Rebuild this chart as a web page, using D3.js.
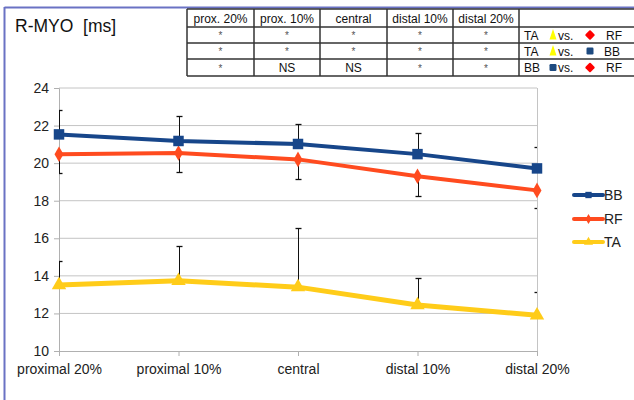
<!DOCTYPE html>
<html>
<head>
<meta charset="utf-8">
<script src="https://cdn.jsdelivr.net/npm/d3@7/dist/d3.min.js"></script>
<style>
  html, body { margin: 0; padding: 0; background: #fff; }
  svg { display: block; font-family: "Liberation Sans", Arial, sans-serif; }
</style>
</head>
<body>
<svg id="chart" width="634" height="400"></svg>
<script>
// Positions along the muscle
const categories = ["proximal 20%", "proximal 10%", "central", "distal 10%", "distal 20%"];

// Mean R-MYO values [ms] per muscle
const bbValues = [21.53, 21.18, 21.02, 20.48, 19.72];
const rfValues = [20.47, 20.54, 20.20, 19.30, 18.55];
const taValues = [13.51, 13.74, 13.40, 12.45, 11.90];

// Standard deviations (BB and TA drawn upward, RF downward)
const bbSD = [1.28, 1.32, 1.08, 1.14, 1.15];
const rfSD = [1.02, 1.02, 1.04, 1.04, 0.93];
const taSD = [1.30, 1.85, 3.15, 1.45, 1.25];

const yTicks = [10, 12, 14, 16, 18, 20, 22, 24];

// Significance table
const tableHeaders = ["prox. 20%", "prox. 10%", "central", "distal 10%", "distal 20%"];
const tableRows = [
  ["*", "*", "*", "*", "*"],
  ["*", "*", "*", "*", "*"],
  ["*", "NS", "NS", "*", "*"]
];
const comparisons = [["TA", "RF"], ["TA", "BB"], ["BB", "RF"]];

const colors = { BB: "#17468a", RF: "#ff4b1f", TA: "#ffcc19" };
const markerColors = { BB: "#1d4a80", RF: "#ff0000", TA: "#ffff00" };

const svg = d3.select("#chart");

// Outer frame (top and left edges)
svg.append("line").attr("x1", 4.5).attr("x2", 634).attr("y1", 7.5).attr("y2", 7.5)
  .attr("stroke", "#6a72c4").attr("stroke-width", 2);
svg.append("line").attr("x1", 4.5).attr("x2", 4.5).attr("y1", 7).attr("y2", 400)
  .attr("stroke", "#6a72c4").attr("stroke-width", 2);

// Title
svg.append("text").attr("x", 15).attr("y", 32).attr("font-size", 17.5).attr("fill", "#111")
  .attr("xml:space", "preserve").text("R-MYO  [ms]");

// Scales
const x = d3.scalePoint().domain(categories).range([59, 537]);
const y = d3.scaleLinear().domain([10, 24]).range([351, 88]);

// Clip region for error bar caps
svg.append("clipPath").attr("id", "plotclip").append("rect")
  .attr("x", 59).attr("y", 0).attr("width", 478).attr("height", 360);

// Horizontal gridlines
svg.append("g").selectAll("line").data(yTicks.filter(t => t > 10)).join("line")
  .attr("x1", 59).attr("x2", 537).attr("y1", d => y(d)).attr("y2", d => y(d))
  .attr("stroke", "#c4c4c4").attr("stroke-width", 1);
// Right border of plot
svg.append("line").attr("x1", 537.5).attr("x2", 537.5).attr("y1", y(24)).attr("y2", y(10))
  .attr("stroke", "#c4c4c4");

// Y axis
const yAxis = svg.append("g").attr("transform", "translate(59,0)")
  .call(d3.axisLeft(y).tickValues(yTicks).tickSize(5).tickPadding(5).tickFormat(d3.format("d")));
yAxis.select(".domain").attr("stroke", "#b0b0b0");
yAxis.selectAll(".tick line").attr("stroke", "#b0b0b0");
yAxis.selectAll("text").attr("font-size", 14).attr("fill", "#222")
  .attr("font-family", "Liberation Sans, Arial, sans-serif");

// X axis
const xAxis = svg.append("g").attr("transform", `translate(0,${y(10)})`)
  .call(d3.axisBottom(x).tickSize(5).tickPadding(8));
xAxis.select(".domain").attr("stroke", "#b0b0b0").attr("d", "M59,0.5H537");
xAxis.selectAll(".tick line").attr("stroke", "#b0b0b0");
xAxis.selectAll("text").attr("font-size", 14).attr("fill", "#222")
  .attr("font-family", "Liberation Sans, Arial, sans-serif");

// Error bars
function errorBars(values, sd, dir) {
  const g = svg.append("g").attr("clip-path", "url(#plotclip)");
  categories.forEach((c, i) => {
    const x0 = Math.round(x(c)) + 0.5;
    const yEnd = Math.round(y(values[i] + dir * sd[i])) + 0.5;
    g.append("line").attr("x1", x0).attr("x2", x0)
      .attr("y1", y(values[i])).attr("y2", yEnd).attr("stroke", "#111").attr("stroke-width", 1);
    g.append("line").attr("x1", x0 - 3).attr("x2", x0 + 3)
      .attr("y1", yEnd).attr("y2", yEnd).attr("stroke", "#111").attr("stroke-width", 1.3);
  });
}
errorBars(bbValues, bbSD, 1);
errorBars(rfValues, rfSD, -1);
errorBars(taValues, taSD, 1);

const line = d3.line().x((d, i) => x(categories[i])).y(d => y(d));

function series(values, key, symbol, size, width) {
  svg.append("path").datum(values).attr("d", line).attr("fill", "none")
    .attr("stroke", colors[key]).attr("stroke-width", width).attr("stroke-linejoin", "round");
  svg.append("g").selectAll("path").data(values).join("path")
    .attr("transform", (d, i) => `translate(${x(categories[i])},${y(d)})`)
    .attr("d", d3.symbol().type(symbol).size(size)).attr("fill", colors[key]);
}
series(taValues, "TA", d3.symbolTriangle, 90, 5);
series(rfValues, "RF", d3.symbolDiamond, 70, 4);
series(bbValues, "BB", d3.symbolSquare, 110, 4);

// Legend
const legendItems = [
  { key: "BB", symbol: d3.symbolSquare, size: 40, y: 195 },
  { key: "RF", symbol: d3.symbolDiamond, size: 30, y: 219 },
  { key: "TA", symbol: d3.symbolTriangle, size: 36, y: 242 }
];
const lg = svg.append("g");
legendItems.forEach(it => {
  lg.append("line").attr("x1", 574).attr("x2", 603).attr("y1", it.y).attr("y2", it.y)
    .attr("stroke", colors[it.key]).attr("stroke-width", 4).attr("stroke-linecap", "round");
  lg.append("path").attr("transform", `translate(588.5,${it.y})`)
    .attr("d", d3.symbol().type(it.symbol).size(it.size)).attr("fill", colors[it.key]);
  lg.append("text").attr("x", 604).attr("y", it.y + 5).attr("font-size", 14).attr("fill", "#222")
    .text(it.key);
});

// Significance table
const colEdges = [187, 254, 320, 387, 453, 519, 634];
const rowEdges = [9, 27, 43, 59, 76];
const tg = svg.append("g");
tg.append("rect").attr("x", 187).attr("y", 9).attr("width", 447).attr("height", 67).attr("fill", "#fff");
rowEdges.forEach(ry => {
  tg.append("line").attr("x1", 187).attr("x2", 634).attr("y1", ry).attr("y2", ry)
    .attr("stroke", "#333").attr("stroke-width", 1.5);
});
colEdges.slice(0, 6).forEach(cx => {
  tg.append("line").attr("x1", cx).attr("x2", cx).attr("y1", 9).attr("y2", 76)
    .attr("stroke", "#333").attr("stroke-width", 1.5);
});
tableHeaders.forEach((h, i) => {
  tg.append("text").attr("x", (colEdges[i] + colEdges[i + 1]) / 2).attr("y", 22.5)
    .attr("text-anchor", "middle").attr("font-size", 12).attr("fill", "#111").text(h);
});
tableRows.forEach((row, r) => {
  row.forEach((v, i) => {
    const cx = (colEdges[i] + colEdges[i + 1]) / 2;
    const cy = (rowEdges[r + 1] + rowEdges[r + 2]) / 2;
    if (v === "*") {
      tg.append("text").attr("x", cx).attr("y", cy + 4).attr("text-anchor", "middle")
        .attr("font-size", 10).attr("fill", "#555").text(v);
    } else {
      tg.append("text").attr("x", cx).attr("y", cy + 4.5).attr("text-anchor", "middle")
        .attr("font-size", 12).attr("fill", "#111").text(v);
    }
  });
});

// Small marker glyphs used in the comparison column
function drawGlyph(key, cx, cy) {
  if (key === "RF") {
    tg.append("rect").attr("x", -3.6).attr("y", -3.6).attr("width", 7.2).attr("height", 7.2)
      .attr("rx", 1).attr("transform", `translate(${cx},${cy}) rotate(45)`)
      .attr("fill", markerColors.RF);
  } else if (key === "BB") {
    tg.append("rect").attr("x", cx - 3.5).attr("y", cy - 3.5).attr("width", 7).attr("height", 7)
      .attr("rx", 1.2).attr("fill", markerColors.BB);
  } else {
    tg.append("path").attr("d", `M${cx},${cy - 6} L${cx + 3.5},${cy + 4.5} L${cx - 3.5},${cy + 4.5} Z`)
      .attr("fill", markerColors.TA).attr("stroke-linejoin", "round");
  }
}
comparisons.forEach((cmp, r) => {
  const cy = (rowEdges[r + 1] + rowEdges[r + 2]) / 2;
  tg.append("text").attr("x", 524).attr("y", cy + 4.5).attr("font-size", 12).attr("fill", "#111").text(cmp[0]);
  drawGlyph(cmp[0], 553, cy);
  tg.append("text").attr("x", 558).attr("y", cy + 4.5).attr("font-size", 12).attr("fill", "#111").text("vs.");
  drawGlyph(cmp[1], 590, cy);
  tg.append("text").attr("x", cmp[1] === "RF" ? 606 : 604).attr("y", cy + 4.5).attr("font-size", 12)
    .attr("fill", "#111").text(cmp[1]);
});
</script>
</body>
</html>
